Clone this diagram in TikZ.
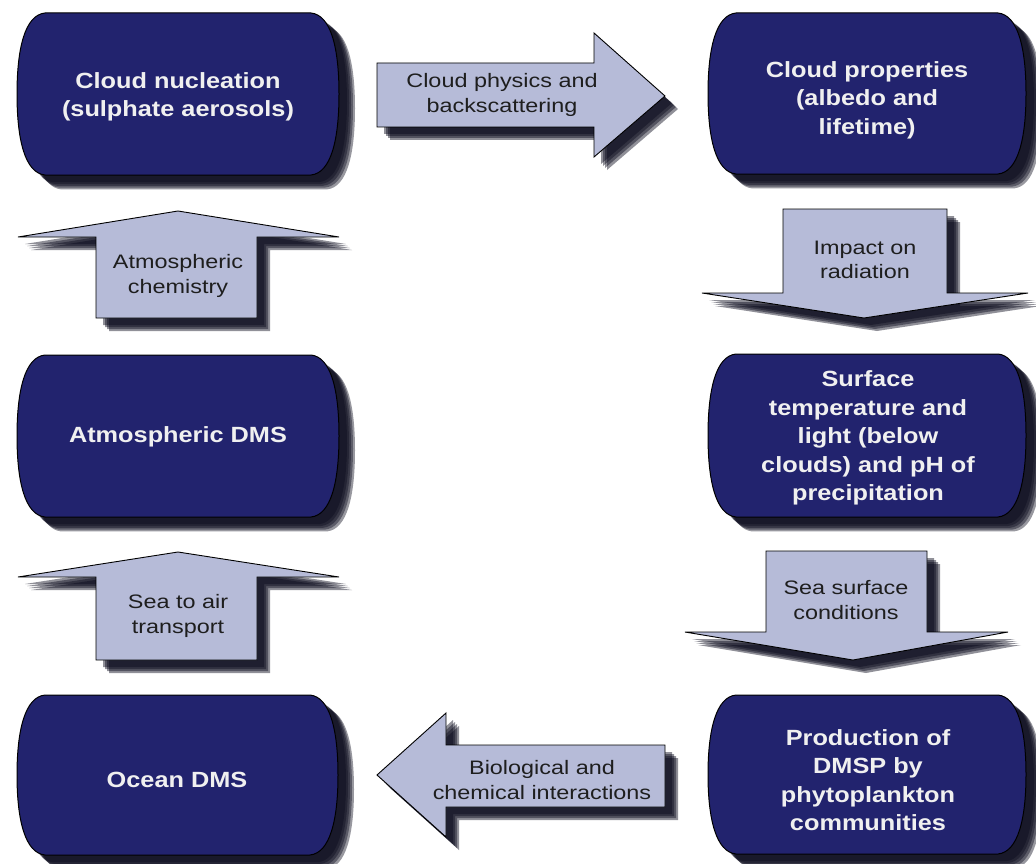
\documentclass[tikz,border=0pt]{standalone}
\usepackage{fontspec}
\setmainfont{Liberation Sans}
\newfontfamily\boxfont{Liberation Sans}[FakeStretch=1.15]
\newfontfamily\arrfont{Liberation Sans}[FakeStretch=1.2]
\definecolor{navy}{RGB}{34,35,110}
\definecolor{arrowfill}{RGB}{182,187,216}
\definecolor{shadowc}{RGB}{10,10,28}
\definecolor{arrtext}{RGB}{30,30,30}
\tikzset{
  boxshape/.style={fill=navy, draw=black, line width=1pt},
  arrshape/.style={fill=arrowfill, draw=black, line width=0.9pt, line join=miter},
  boxtext/.style={text=white!94!black, align=center, font=\boxfont\bfseries\fontsize{22}{28.5}\selectfont, inner sep=0pt},
  arrtxt/.style={text=arrtext, align=center, font=\arrfont\fontsize{19.5}{24.5}\selectfont, inner sep=0pt},
}
% rounded "barrel" box path: L T R B (height about 160)
\newcommand{\boxpath}[4]{%
  (#1+28,#2) -- (#3-28,#2)
  .. controls (#3-8,#2+2) and (#3,#2+35) .. (#3,0.5*#2+0.5*#4)
  .. controls (#3,#4-35) and (#3-8,#4-2) .. (#3-28,#4)
  -- (#1+28,#4)
  .. controls (#1+8,#4-2) and (#1,#4-35) .. (#1,0.5*#2+0.5*#4)
  .. controls (#1,#2+35) and (#1+8,#2+2) .. (#1+28,#2) -- cycle}
\newcommand{\dmsbox}[4]{%
  \foreach \s in {8,10,12,14,16}{
    \fill[shadowc, opacity=0.42, shift={(\s,0.9*\s)}] \boxpath{#1}{#2}{#3}{#4};
  }
  \filldraw[boxshape] \boxpath{#1}{#2}{#3}{#4};
}
% block arrow from a polygon path
\newcommand{\blockarrow}[1]{%
  \foreach \s in {7,9,11,13}{
    \fill[shadowc, opacity=0.45, shift={(\s,\s)}] #1;
  }
  \filldraw[arrshape] #1;
}
\begin{document}
\begin{tikzpicture}[x=1pt, y=-1pt]
\useasboundingbox (0,0) rectangle (1036,864);
\fill[white] (0,0) rectangle (1036,864);

% boxes
\dmsbox{17}{13}{339}{175}
\dmsbox{708}{13}{1026}{174}
\dmsbox{17}{355}{339}{517}
\dmsbox{708}{354}{1026}{517}
\dmsbox{17}{695}{338}{855}
\dmsbox{708}{695}{1026}{854}

\node[boxtext] (n1) at (178,97) {Cloud nucleation\\(sulphate aerosols)};
\node[boxtext] (n2) at (867,100) {Cloud properties\\(albedo and\\lifetime)};
\node[boxtext] (n3) at (178,437) {Atmospheric DMS};
\node[boxtext] (n4) at (868,438) {Surface\\temperature and\\light (below\\clouds) and pH of\\precipitation};
\node[boxtext] (n5) at (177,780) {Ocean DMS};
\node[boxtext] (n6) at (868,780) {Production of\\DMSP by\\phytoplankton\\communities};

% block arrows
\blockarrow{(377,63) -- (594,63) -- (594,33) -- (665,96) -- (594,157) -- (594,127) -- (377,127) -- cycle}
\blockarrow{(96,318) -- (96,237) -- (18,237) -- (178,211) -- (339,237) -- (257,237) -- (257,318) -- cycle}
\blockarrow{(783,209) -- (947,209) -- (947,293) -- (1028,293) -- (864,318) -- (702,293) -- (783,293) -- cycle}
\blockarrow{(766,551) -- (927,551) -- (927,632) -- (1008,632) -- (853,660) -- (685,632) -- (766,632) -- cycle}
\blockarrow{(96,660) -- (96,577) -- (18,577) -- (178,552) -- (339,577) -- (257,577) -- (257,660) -- cycle}
\blockarrow{(665,745) -- (446,745) -- (446,713) -- (377,775) -- (446,837) -- (446,807) -- (665,807) -- cycle}

\node[arrtxt] (a1) at (502,95) {Cloud physics and\\backscattering};
\node[arrtxt] (a2) at (178,276) {Atmospheric\\chemistry};
\node[arrtxt] (a3) at (865,260) {Impact on\\radiation};
\node[arrtxt] (a4) at (846,600) {Sea surface\\conditions};
\node[arrtxt] (a5) at (178,616) {Sea to air\\transport};
\node[arrtxt] (a6) at (542,780) {Biological and\\chemical interactions};
\end{tikzpicture}
\end{document}
